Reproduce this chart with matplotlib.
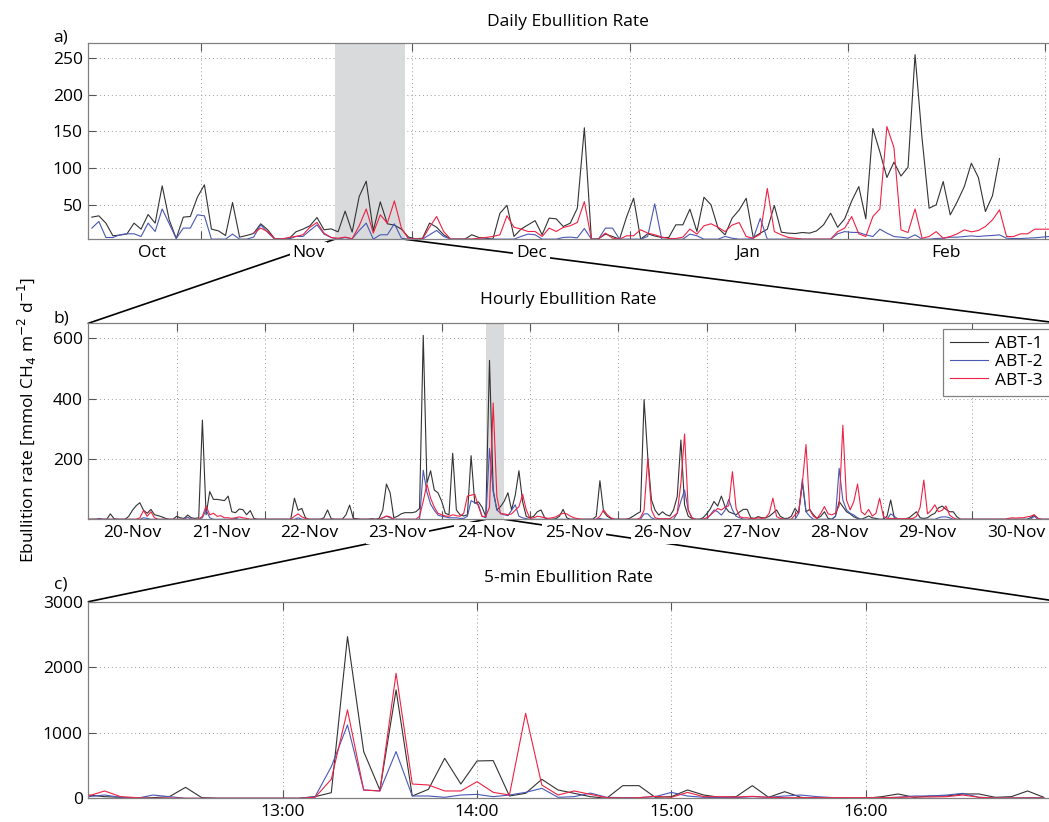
import numpy as np
import matplotlib
matplotlib.use("Agg")
import matplotlib.pyplot as plt
from matplotlib.patches import ConnectionPatch

plt.rcParams['font.family'] = ['Open Sans', 'DejaVu Sans']
FS = 12.5
nan = np.nan

# ---------------- data ----------------
series_names = ["ABT-1", "ABT-2", "ABT-3"]
series_colors = ["#333333", "#4a58b4", "#ee2244"]

# Daily values, one per day from 16-Oct to 01-Mar (day 0 = 01-Nov)
daily_first_day = -16
daily_abt1 = [32.8, 34.6, 24.6, 7.3, 8.2, 10, 24.6, 16.4, 36.4, 24.6, 75.6, 29, 3.6, 32.8, 33.7, 60,
              77, 16.4, 14, 7.7, 52.8, 5.5, 7.7, 10.5, 23.7, 15.5, 3.2, 3.2, 3.2, 12.7, 16.4, 21,
              32.3, 15.5, 16.8, 12.7, 41, 12.3, 61, 82, 14, 53.7, 23.7, 21.9, 16.4, 5.5,
              3.2, 4, 24.6, 19, 8.7, 2.7, 2.7, 2.7, 8.7, 5,
              4, 2.7, 38, 49, 6.4, 16.4, 22.3, 28, 8.7, 31.4,
              30.5, 20, 24.6, 45, 155, 2.7, 3.2, 9.6, 6.4, 2.7,
              33, 58.7, 2.7, 10, 7, 5, 5, 22.3, 22.3, 43.7,
              13.2, 60, 49.6, 17.8, 8.7, 31.4, 42.6, 58.6, 5, 10.9,
              16.3, 48.7, 12.2, 10.9, 10.4, 11.8, 10.9, 14, 22.3, 38.2,
              19, 30.5, 55, 74.6, 30.5, 154, 122, 87, 108, 89,
              101, 255, 140, 45, 49.6, 81.5, 35.9, 54, 74.6, 106.5,
              87, 40.5, 62, 113,
              nan, nan, nan, nan, nan, nan, nan]
daily_abt2 = [17.8, 26.9, 5, 5, 8.7, 10, 10, 6.4, 24.6, 13.2, 44, 23.7, 3.6, 17.8, 17.8, 36,
              34.6, 2.7, 2.7, 2.7, 9.6, 2.7, 2.7, 5.5, 22.3, 11.8, 2.7, 2.7, 2.7, 6.4, 6.4, 14.6,
              22.3, 9.6, 5, 2.7, 5, 3.2, 14.6, 24.6, 2.7, 8.7, 8.7, 23.7, 4, 2.7,
              2.7, 2.7, 8.7, 14.6, 6.4, 2.7, 2.7, 2.7, 2.7, 2.7,
              2.7, 2.7, 2.7, 2.7, 2.7, 6.4, 9.6, 8.7, 2.7, 2.7,
              2.7, 5, 5.5, 4.5, 17.3, 2.7, 2.7, 17.8, 17.8, 2.7,
              2.7, 2.7, 2.7, 6.4, 51, 2.7, 2.7, 2.7, 2.7, 9.6,
              7.3, 2.7, 2.7, 2.7, 6.4, 4, 2.7, 2.7, 3.5, 31,
              2.7, 2.7, 2.7, 2.7, 2.7, 2.7, 2.7, 2.7, 2.7, 2.7,
              10, 13, 12, 11.8, 8.6, 6.3, 16.3, 10.9, 6.3, 5.4,
              4, 8.6, 2.7, 2.7, 3.6, 4, 5.4, 5.4, 6.3, 7.2,
              6.3, 7.2, 7.7, 8.6, 4, 3.6, 3.6, 4, 4.5, 5.4,
              6.3]
daily_abt3 = [nan] * 23 + [
              11, 17.8, 13, 3, 3, 5, 6.4, 8.7, 19, 25.5, 11, 5, 4, 5.5, 3.2, 21, 44, 11, 36,
              24.6, 55, 17.8, 3,
              3, 3, 19, 33.7, 13.2, 2.7, 2.7, 2.7, 2.7, 4,
              5, 6.4, 8.7, 34.6, 19, 16.4, 13.2, 13.2, 6.4, 17.8,
              13.2, 18.7, 21, 25.5, 54, 2.7, 2.7, 11, 4, 2.7,
              7.3, 7.3, 15.5, 11, 8.7, 5.5, 3.6, 3.6, 5.5, 16.4,
              9.6, 21, 23.7, 19, 13, 22, 25.4, 6.3, 4, 9.5,
              72, 13, 8.6, 5, 4, 2.7, 2.7, 2.7, 2.7, 2.7,
              13, 17.8, 33.6, 10, 6.3, 33.6, 44, 156.6, 128, 15.4,
              11.8, 44, 4, 6.3, 13, 4, 6.3, 10, 15.4, 12.7,
              14.5, 20, 29, 42.8, 6.3, 6.3, 10, 10, 16.3, 16.3,
              16.3]
month_names = ["Oct", "Nov", "Dec", "Jan", "Feb"]
month_label_days = [-7, 15.3, 47, 77.8, 105.9]
month_start_days = [0, 30, 61, 92, 120]
daily_zoom_days = [19, 29]

# Hourly values 20-Nov 00:00 .. 30-Nov 23:00, 24 per day
day_names = ["20-Nov", "21-Nov", "22-Nov", "23-Nov", "24-Nov", "25-Nov",
             "26-Nov", "27-Nov", "28-Nov", "29-Nov", "30-Nov"]
hourly_abt1 = [
    [0, 0, 0, 0, 0, 0, 18, 2, 0, 0, 0, 10, 30, 45, 55, 30, 20, 33, 15, 12, 8, 3, 0, 0],
    [10, 5, 3, 14, 5, 3, 5, 329, 15, 92, 66, 66, 64, 62, 77, 25, 22, 34, 32, 15, 29, 3, 0, 0],
    [0, 0, 0, 0, 0, 0, 0, 0, 70, 30, 36, 5, 0, 0, 0, 0, 5, 31, 2, 0, 0, 0, 15, 47],
    [3, 2, 0, 0, 0, 2, 0, 3, 30, 117, 88, 5, 10, 18, 22, 22, 22, 25, 36, 610, 120, 161, 97, 88],
    [60, 20, 15, 219, 31, 15, 11, 15, 211, 53, 58, 40, 9, 527, 97, 31, 42, 60, 88, 31, 80, 161, 58, 9],
    [5, 10, 25, 31, 5, 0, 0, 2, 10, 33, 5, 0, 0, 0, 0, 0, 0, 0, 10, 128, 25, 10, 3, 0],
    [0, 0, 0, 3, 10, 18, 25, 397, 207, 64, 30, 14, 25, 15, 11, 31, 75, 263, 48, 10, 3, 0, 0, 5],
    [18, 35, 59, 44, 77, 42, 25, 20, 15, 25, 33, 33, 5, 3, 9, 5, 5, 10, 20, 31, 10, 3, 3, 10],
    [36, 20, 121, 25, 33, 15, 3, 10, 25, 3, 0, 10, 59, 42, 25, 18, 8, 3, 0, 5, 11, 5, 3, 0],
    [0, 10, 64, 3, 0, 0, 2, 5, 15, 25, 5, 3, 5, 14, 20, 38, 44, 33, 25, 25, 8, 0, 0, 0],
    [0, 0, 0, 0, 0, 0, 0, 0, 0, 0, 0, 0, 0, 0, 0, 0, 5, 14, 3, 0, 0, 0, 0, 0],
]
hourly_abt2 = [
    [0, 0, 0, 3, 0, 0, 0, 0, 0, 0, 0, 0, 0, 0, 0, 5, 3, 0, 0, 0, 0, 0, 0, 0],
    [0, 0, 0, 7, 0, 0, 0, 5, 31, 5, 0, 0, 0, 0, 0, 0, 3, 0, 0, 0, 0, 0, 0, 0],
    [0, 0, 0, 0, 0, 0, 0, 0, 0, 5, 0, 0, 0, 0, 0, 0, 0, 0, 0, 0, 0, 0, 0, 0],
    [0, 0, 0, 0, 0, 0, 0, 0, 5, 10, 5, 0, 0, 0, 0, 0, 0, 0, 0, 163, 90, 50, 30, 14],
    [10, 8, 5, 5, 5, 3, 3, 10, 62, 55, 48, 10, 5, 235, 92, 31, 20, 15, 12, 30, 48, 10, 5, 2],
    [0, 0, 0, 0, 0, 0, 0, 0, 0, 0, 0, 0, 0, 0, 0, 0, 0, 0, 0, 3, 0, 0, 0, 0],
    [0, 0, 0, 0, 0, 0, 0, 18, 18, 5, 0, 0, 0, 0, 0, 0, 20, 60, 97, 30, 5, 0, 0, 0],
    [0, 15, 31, 25, 14, 30, 66, 31, 10, 5, 0, 0, 0, 0, 0, 0, 0, 0, 0, 0, 0, 0, 0, 0],
    [0, 20, 133, 25, 10, 0, 0, 0, 0, 0, 0, 10, 169, 64, 31, 20, 14, 5, 0, 0, 0, 0, 0, 0],
    [0, 0, 18, 10, 0, 0, 0, 0, 0, 0, 0, 0, 0, 0, 0, 5, 8, 8, 5, 0, 0, 0, 0, 0],
    [0, 0, 0, 0, 0, 0, 0, 0, 0, 0, 0, 0, 0, 0, 0, 0, 0, 10, 0, 0, 0, 0, 0, 0],
]
hourly_abt3 = [
    [0, 0, 0, 0, 0, 0, 0, 0, 0, 0, 0, 0, 0, 0, 5, 29, 10, 25, 5, 0, 0, 0, 0, 0],
    [0, 0, 0, 0, 0, 0, 0, 10, 44, 15, 20, 10, 12, 5, 5, 3, 5, 8, 5, 3, 0, 0, 0, 0],
    [0, 0, 0, 0, 0, 0, 0, 0, 10, 18, 8, 3, 0, 0, 0, 0, 0, 0, 0, 0, 0, 0, 0, 0],
    [0, 0, 0, 0, 0, 0, 0, 0, 5, 11, 8, 0, 0, 0, 0, 0, 0, 0, 10, 60, 117, 70, 40, 20],
    [15, 11, 10, 15, 12, 10, 20, 77, 80, 83, 42, 9, 10, 40, 386, 75, 18, 18, 15, 18, 30, 42, 83, 31],
    [3, 5, 10, 8, 5, 3, 5, 8, 15, 20, 18, 10, 5, 2, 0, 0, 0, 0, 0, 10, 31, 15, 5, 0],
    [0, 0, 0, 0, 0, 0, 5, 30, 202, 31, 5, 2, 2, 2, 2, 10, 20, 120, 283, 31, 5, 0, 0, 0],
    [5, 14, 25, 36, 31, 40, 45, 158, 36, 9, 5, 5, 3, 3, 5, 3, 5, 20, 70, 9, 3, 0, 0, 0],
    [15, 25, 120, 248, 31, 10, 3, 20, 42, 18, 15, 20, 45, 312, 64, 31, 60, 117, 25, 15, 33, 11, 20, 70],
    [10, 3, 3, 2, 2, 2, 2, 2, 3, 10, 40, 130, 18, 30, 48, 25, 30, 44, 14, 5, 0, 0, 0, 0],
    [0, 0, 0, 0, 0, 0, 0, 0, 0, 0, 3, 5, 4, 5, 5, 8, 10, 15, 3, 0, 0, 0, 0, 0],
]
hourly_zoom_hours = [108, 113]   # 24-Nov 12:00 .. 17:00

# 5-min values 24-Nov 12:00 .. 16:55
five_min_abt1 = [50, 25, 15, 0, 10, 25, 167, 10, 0, 0,
                 0, 0, 0, 0, 25, 86, 2467, 713, 127, 1653,
                 35, 137, 610, 218, 570, 575, 35, 76, 290, 127,
                 76, 25, 0, 193, 193, 15, 25, 127, 50, 15,
                 25, 193, 15, 101, 15, 0, 0, 0, 0, 25,
                 66, 15, 35, 35, 66, 66, 15, 25, 112, 15]
five_min_abt2 = [25, 50, 15, 0, 50, 25, 0, 0, 0, 0,
                 0, 0, 0, 0, 25, 483, 1119, 127, 112, 713,
                 35, 35, 15, 50, 60, 25, 50, 91, 152, 15,
                 25, 80, 15, 10, 10, 25, 90, 35, 15, 10,
                 10, 25, 15, 35, 50, 25, 10, 5, 5, 5,
                 15, 35, 35, 50, 75, 15, 5, 5, 10, 10]
five_min_abt3 = [35, 112, 25, 10, 0, 5, 0, 0, 0, 0,
                 0, 0, 0, 0, 15, 290, 1349, 127, 112, 1908,
                 218, 203, 112, 112, 254, 91, 50, 1297, 203, 50,
                 112, 60, 10, 5, 10, 30, 15, 90, 25, 25,
                 20, 30, 15, 10, 10, 10, 10, 10, 10, 10,
                 15, 20, 20, 25, 50, 15, 5, 5, 5, 5]
hour_names = ["13:00", "14:00", "15:00", "16:00"]

# ---------------- figure ----------------
W, H = 1049, 822
fig = plt.figure(figsize=(W / 100, H / 100), dpi=100)


def box(l, t, r, b):
    return [l / W, 1 - b / H, (r - l) / W, (b - t) / H]


ax_a = fig.add_axes(box(88.3, 43.3, 1060, 239.3))
ax_b = fig.add_axes(box(88.3, 323.3, 1060, 519.3))
ax_c = fig.add_axes(box(88.4, 601.7, 1060, 798.3))

band_col = "#d9dadc"
grid_kw = dict(color="#9a9a9a", linestyle=(0, (1, 3)), linewidth=0.7)

for ax in (ax_a, ax_b, ax_c):
    ax.set_axisbelow(True)
    for s in ax.spines.values():
        s.set_color("#808080")
        s.set_linewidth(0.9)
    ax.tick_params(which="major", direction="in", length=6, width=0.8, color="#555555",
                   top=True, right=True, labelsize=FS, pad=4)
    ax.tick_params(which="minor", length=0, labelsize=FS, pad=4)
    ax.grid(True, which="major", **grid_kw)

# panel a
xd = np.arange(len(daily_abt1)) + daily_first_day + 0.5
for vals, c, n in zip([daily_abt1, daily_abt2, daily_abt3], series_colors, series_names):
    ax_a.plot(xd, vals, color=c, lw=0.8, label=n, zorder=2)
ax_a.axvspan(daily_zoom_days[0], daily_zoom_days[1], color=band_col, lw=0, zorder=1)
ax_a.set_xlim(-16, 122.1)
ax_a.set_ylim(2.5, 270.5)
ax_a.set_yticks([50, 100, 150, 200, 250])
ax_a.set_xticks(month_start_days)
ax_a.set_xticklabels([])
ax_a.set_xticks(month_label_days, month_names, minor=True)

# panel b
hourly_series = [np.concatenate(s) for s in (hourly_abt1, hourly_abt2, hourly_abt3)]
xh = np.arange(len(hourly_series[0]))
lines = []
for vals, c, n in zip(hourly_series, series_colors, series_names):
    ln, = ax_b.plot(xh, vals, color=c, lw=0.8, label=n, zorder=2)
    lines.append(ln)
ax_b.axvspan(hourly_zoom_hours[0], hourly_zoom_hours[1], color=band_col, lw=0, zorder=1)
ax_b.set_xlim(0, 24 * len(day_names))
ax_b.set_ylim(0, 650)
ax_b.set_yticks([200, 400, 600])
ax_b.set_xticks(np.arange(24, 24 * len(day_names) + 1, 24))
ax_b.set_xticklabels([])
ax_b.set_xticks(np.arange(len(day_names)) * 24 + 12, day_names, minor=True)

leg_top = 1 - 329 / H
leg = ax_b.legend(lines, series_names, loc="upper left", mode="expand",
                  bbox_to_anchor=(943 / W, 0, 240 / W, leg_top), bbox_transform=fig.transFigure,
                  frameon=True, fancybox=False, framealpha=1, edgecolor="#808080",
                  fontsize=FS, handlelength=2.2, handletextpad=0.4, labelspacing=0.12,
                  borderpad=0.4, borderaxespad=0)
leg.get_frame().set_linewidth(0.9)

# panel c
x5 = np.arange(len(five_min_abt1))
for vals, c, n in zip([five_min_abt1, five_min_abt2, five_min_abt3], series_colors, series_names):
    ax_c.plot(x5, vals, color=c, lw=0.8, label=n, zorder=2)
ax_c.set_xlim(0, 60)
ax_c.set_ylim(0, 3000)
ax_c.set_yticks([0, 1000, 2000, 3000])
ax_c.set_xticks([12, 24, 36, 48], hour_names)

for ax in (ax_a, ax_b, ax_c):
    for lab in ax.get_xticklabels(minor=True) + ax.get_xticklabels():
        lab.set_bbox(dict(facecolor="white", edgecolor="none", pad=2))

# connectors
conn = [
    ((daily_zoom_days[0], 2.5), ax_a, (0, 650), ax_b),
    ((daily_zoom_days[1], 2.5), ax_a, (24 * len(day_names), 650), ax_b),
    ((hourly_zoom_hours[0], 0), ax_b, (0, 3000), ax_c),
    ((hourly_zoom_hours[1], 0), ax_b, (60, 3000), ax_c),
]
for xyA, axA, xyB, axB in conn:
    cp = ConnectionPatch(xyA=xyA, coordsA=axA.transData, xyB=xyB, coordsB=axB.transData,
                         color="black", lw=1.2, zorder=-1)
    fig.add_artist(cp)

# titles, panel letters, y label
fig.text(568 / W, 1 - 22 / H, "Daily Ebullition Rate", ha="center", va="center", fontsize=FS)
fig.text(568 / W, 1 - 300 / H, "Hourly Ebullition Rate", ha="center", va="center", fontsize=FS)
fig.text(568 / W, 1 - 578 / H, "5-min Ebullition Rate", ha="center", va="center", fontsize=FS)
fig.text(61 / W, 1 - 38 / H, "a)", ha="center", va="center", fontsize=FS)
fig.text(61 / W, 1 - 318 / H, "b)", ha="center", va="center", fontsize=FS)
fig.text(61 / W, 1 - 584 / H, "c)", ha="center", va="center", fontsize=FS)
fig.text(27 / W, 1 - 420 / H, r"Ebullition rate [mmol CH$_4$ m$^{-2}$ d$^{-1}$]",
         rotation=90, ha="center", va="center", fontsize=FS)

fig.savefig("out.png", dpi=100)
